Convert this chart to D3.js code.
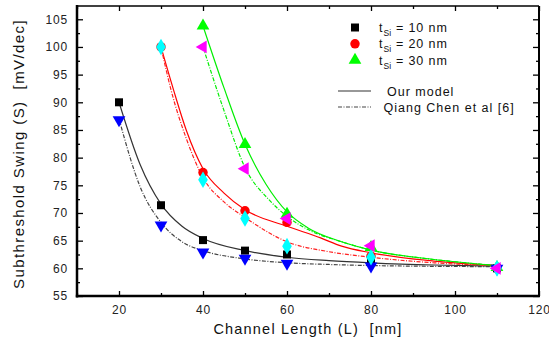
<!DOCTYPE html>
<html><head><meta charset="utf-8">
<script src="https://cdn.jsdelivr.net/npm/d3@7"></script>
<style>body{margin:0;background:#fff}svg{display:block}text{font-family:"Liberation Sans",Arial,sans-serif}</style>
</head><body><svg id="c" width="549" height="345"></svg>
<script>
// Channel lengths (nm)
const L = [20, 30, 40, 50, 60, 80, 110];
// Markers: our model
const tsi10 = [[20,90],[30,71.4],[40,65.1],[50,63.2],[60,62.5],[80,61.2],[110,60]];
const tsi20 = [[30,100],[40,77.3],[50,70.4],[60,68.3],[80,62.2],[110,60]];
const tsi30 = [[40,103.8],[50,82.4],[60,69.8],[80,63.8],[110,60.2]];
// Markers: Qiang Chen et al [6]
const chen10 = [[20,86.8],[30,67.8],[40,62.9],[50,61.8],[60,60.9],[80,60.4],[110,60]];
const chen20 = [[30,100],[40,76.0],[50,69.0],[60,64.0],[80,62.0],[110,60]];
const chen30 = [[40,100],[50,78.0],[60,69.0],[80,64.1],[110,60]];
// Fitted curves
const fit10 = [[20,90],[25,78.8],[30,71.6],[35,67.6],[40,65.4],[50,63.2],[60,62.0],[70,61.4],[80,61.0],[95,60.6],[110,60.4]];
const fit20 = [[30,100],[33,92.2],[36,85],[40,78.0],[45,73.6],[50,70.6],[60,67.6],[68,65.5],[73,64.0],[80,62.8],[95,61.3],[110,60.5]];
const fit30 = [[40,103.8],[45,92.6],[50,82.4],[55,75.2],[60,70.2],[65,67.3],[73,64.8],[80,63.3],[95,61.6],[110,60.5]];
const fitChen10 = [[20,87],[25,74.8],[30,68.3],[35,64.8],[40,63.2],[50,61.7],[60,61.0],[70,60.7],[80,60.5],[110,60.3]];
const fitChen20 = [[30,100],[32.4,92.2],[36,83.5],[40,76.4],[45,72.0],[50,69.2],[60,64.8],[70,63.0],[80,62.0],[95,61.0],[110,60.5]];
const fitChen30 = [[40,100],[45,88.5],[50,78.2],[55.7,72.4],[60,69.4],[65,67.0],[73,64.8],[80,63.3],[95,61.6],[110,60.5]];
const xTicks = [20,40,60,80,100,120];
const yTicks = [55,60,65,70,75,80,85,90,95,100,105];
const legendMarkers = ["10","20","30"];

(function(){
const svg = d3.select("#c");
const x = d3.scaleLinear().domain([10,120]).range([77,539]);
const y = d3.scaleLinear().domain([55,107.4]).range([296,6]);
const g = svg.append("g");

const tickFont = "12px";
const xMinor = d3.range(10,121,10).filter(v=>v%20);
const yMinor = d3.range(57.5,107.4,5);
const axes = [];
axes.push(g.append("g").attr("transform","translate(0,296)")
  .call(d3.axisBottom(x).tickValues(xTicks).tickSize(-5).tickPadding(9).tickFormat(d3.format("d"))));
axes.push(g.append("g").attr("transform","translate(0,296)")
  .call(d3.axisBottom(x).tickValues(xMinor).tickSize(-3).tickFormat("")));
axes.push(g.append("g").attr("transform","translate(0,6)")
  .call(d3.axisTop(x).tickValues(xTicks).tickSize(-5).tickFormat("")));
axes.push(g.append("g").attr("transform","translate(0,6)")
  .call(d3.axisTop(x).tickValues(xMinor).tickSize(-3).tickFormat("")));
axes.push(g.append("g").attr("transform","translate(77,0)")
  .call(d3.axisLeft(y).tickValues(yTicks).tickSize(-6).tickPadding(9).tickFormat(d3.format("d"))));
axes.push(g.append("g").attr("transform","translate(77,0)")
  .call(d3.axisLeft(y).tickValues(yMinor).tickSize(-3).tickFormat("")));
axes.push(g.append("g").attr("transform","translate(539,0)")
  .call(d3.axisRight(y).tickValues(yTicks).tickSize(-6).tickFormat("")));
axes.push(g.append("g").attr("transform","translate(539,0)")
  .call(d3.axisRight(y).tickValues(yMinor).tickSize(-3).tickFormat("")));
axes.forEach(a=>{
  a.select(".domain").remove();
  a.selectAll("line").attr("stroke","#000").attr("stroke-width",1.3);
  a.selectAll("text").attr("font-size",tickFont).attr("fill","#222").attr("letter-spacing","0.8px")
   .attr("font-family","Liberation Sans, Arial, sans-serif");
});
g.append("line").attr("x1",77).attr("x2",539).attr("y1",6).attr("y2",6).attr("stroke","#000").attr("stroke-width",1.5);
g.append("line").attr("x1",539).attr("x2",539).attr("y1",6).attr("y2",296).attr("stroke","#000").attr("stroke-width",2);
g.append("line").attr("x1",77).attr("x2",77).attr("y1",5).attr("y2",297.5).attr("stroke","#000").attr("stroke-width",2.5);
g.append("line").attr("x1",75.8).attr("x2",540).attr("y1",296).attr("y2",296).attr("stroke","#000").attr("stroke-width",2.5);

const line = d3.line().x(d=>x(d[0])).y(d=>y(d[1])).curve(d3.curveMonotoneX);
const dash = "4,1.5,1,1.5";
const curves = [
  [fit10,"#333",null],[fitChen10,"#444",dash],
  [fit20,"#ff0000",null],[fitChen20,"#ff2020",dash],
  [fit30,"#00ee00",null],[fitChen30,"#00ee00",dash]
];
curves.forEach(([d,c,da])=>{
  g.append("path").attr("d",line(d)).attr("fill","none").attr("stroke",c)
   .attr("stroke-width",1.2).attr("stroke-dasharray",da);
});

function draw(data,type,color){
  const sym = d3.symbol().type(type.t).size(type.s);
  g.selectAll(null).data(data).enter().append("path")
   .attr("d",sym).attr("fill",color)
   .attr("transform",d=>`translate(${x(d[0])},${y(d[1])}) rotate(${type.r||0})`);
}
const SQ={t:d3.symbolSquare,s:64}, CI={t:d3.symbolCircle,s:70}, TR={t:d3.symbolTriangle,s:70};
const TD={t:d3.symbolTriangle,s:70,r:180}, DI={t:d3.symbolDiamond,s:80}, TL={t:d3.symbolTriangle,s:70,r:-90};
draw(tsi20,CI,"#ff0000");
draw(tsi30,TR,"#00ff00");
draw(tsi10,SQ,"#000");
draw(chen10,TD,"#0000ff");
draw(chen20,DI,"#00ffff");
draw(chen30,TL,"#ff00ff");

const legTypes=[[SQ,"#000"],[CI,"#ff0000"],[TR,"#00ff00"]];
legendMarkers.forEach((v,i)=>{
  const yy = 27.5 + i*16.3;
  g.append("path").attr("d",d3.symbol().type(legTypes[i][0].t).size(legTypes[i][0].s)())
   .attr("fill",legTypes[i][1]).attr("transform",`translate(355,${yy})`);
  const t = g.append("text").attr("x",379).attr("y",yy+4.5).attr("font-size","12.5px")
    .attr("letter-spacing","0.9px").attr("fill","#111");
  t.append("tspan").text("t");
  t.append("tspan").attr("font-size","8.5px").attr("dy",4).attr("letter-spacing","0.3px").text("Si");
  t.append("tspan").attr("dy",-4).text(" = "+v+" nm");
});
g.append("line").attr("x1",338).attr("x2",371).attr("y1",91).attr("y2",91).attr("stroke","#333").attr("stroke-width",1.1);
g.append("text").attr("x",387).attr("y",95.5).attr("font-size","12.5px").attr("letter-spacing","1px").attr("fill","#111").text("Our model");
g.append("line").attr("x1",338).attr("x2",371).attr("y1",107).attr("y2",107).attr("stroke","#444").attr("stroke-width",1.1).attr("stroke-dasharray",dash);
g.append("text").attr("x",383.5).attr("y",111.5).attr("font-size","12.5px").attr("letter-spacing","1px").attr("fill","#111").text("Qiang Chen et al [6]");

g.append("text").attr("x",308).attr("y",334).attr("text-anchor","middle").attr("font-size","14.5px")
  .attr("fill","#111").attr("letter-spacing","1.2px").html("Channel Length (L)&#160;&#160;[nm]");
g.append("text").attr("transform","translate(24,154) rotate(-90)").attr("text-anchor","middle")
  .attr("font-size","15px").attr("fill","#111").attr("letter-spacing","1.4px").html("Subthreshold Swing (S)&#160;&#160;[mV/dec]");
})();
</script></body></html>
